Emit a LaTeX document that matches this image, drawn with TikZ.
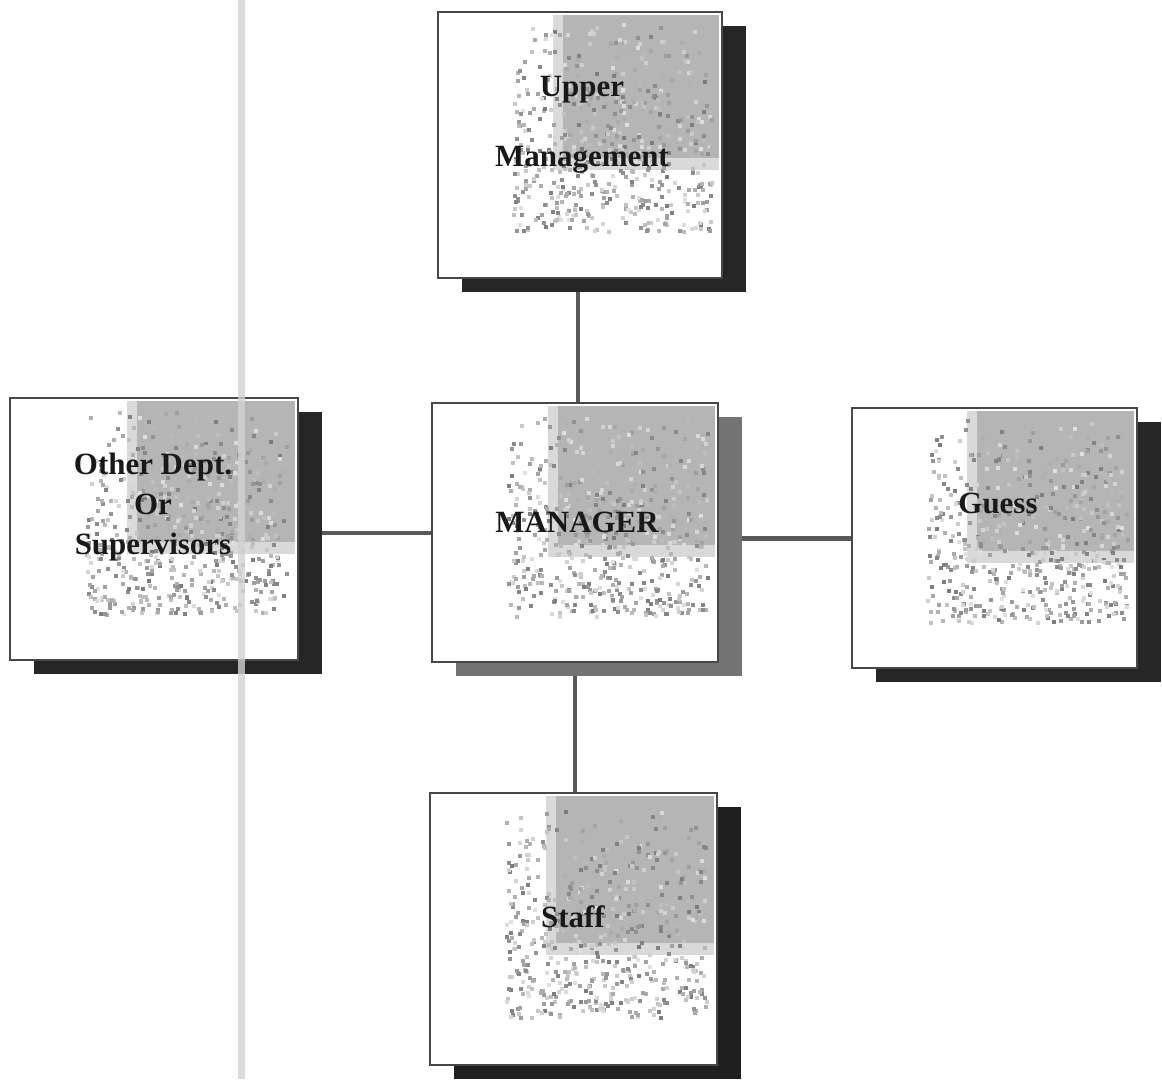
\documentclass[tikz,border=0pt]{standalone}
\usepackage{fontspec}
\setmainfont{Liberation Serif}
\usetikzlibrary{calc}
\pgfdeclarelayer{bg}
\pgfsetlayers{bg,main}
\tikzset{
  boxst/.style={draw=black!72, line width=1.8pt, inner sep=0pt, outer sep=0pt},
  lbl/.style={font=\bfseries\fontsize{22}{28}\selectfont, text=black!90, align=center, inner sep=0pt},
  conn/.style={draw=black!65, line width=3.4pt},
  scanline/.style={fill=gray!35, opacity=0.8}
}
\newcommand\orgbox[7]{%
  % #1 name, #2 x1, #3 y1, #4 x2, #5 y2, #6 shadow colour, #7 seed
  \fill[#6] (#2+24,#3+14) rectangle (#4+24,#5+14);
  \fill[white] (#2,#3) rectangle (#4,#5);
  \pgfmathsetmacro\gxa{#2+0.44*(#4-#2)}
  \pgfmathsetmacro\gyb{#3+0.55*(#5-#3)}
  \fill[gray!30] (\gxa-10,#3+3) rectangle (#4-3,\gyb+12);
  \fill[gray!58] (\gxa,#3+3) rectangle (#4-3,\gyb);
  \pgfmathsetseed{#7}
  \foreach \k in {1,...,520}{%
    \pgfmathsetmacro\px{#2+(0.26+0.70*rnd)*(#4-#2)}
    \pgfmathsetmacro\py{#3+(0.04+0.78*rnd^0.65)*(#5-#3)}
    \pgfmathtruncatemacro\sh{12+40*rnd}
    \fill[black!\sh] (\px,\py) rectangle ++(4,4);
  }
  \pgfmathsetmacro\bw{(#4-#2)*0.025}
  \pgfmathsetmacro\bh{(#5-#3)*0.025}
  \node[boxst, minimum width=\bw cm, minimum height=\bh cm] (#1) at ({(#2+#4)/2},{(#3+#5)/2}) {};
}
\begin{document}
\begin{tikzpicture}[x=0.025cm, y=-0.025cm]
\useasboundingbox (0,0) rectangle (1162,1079);
\begin{pgfonlayer}{bg}
  \fill[white] (0,0) rectangle (1162,1079);
\end{pgfonlayer}

\orgbox{upper}{438}{12}{722}{278}{black!85}{11}
\orgbox{other}{10}{398}{298}{660}{black!85}{23}
\orgbox{mgr}{432}{403}{718}{662}{black!55}{37}
\orgbox{guess}{852}{408}{1137}{668}{black!85}{41}
\orgbox{staff}{430}{793}{717}{1065}{black!88}{53}

\node[lbl, font=\bfseries\fontsize{22}{50}\selectfont] (upper-t) at (582,125) {Upper\\Management};
\node[lbl, font=\bfseries\fontsize{22}{28.5}\selectfont] (other-t) at (153,507) {Other Dept.\\Or\\Supervisors};
\node[lbl] (mgr-t) at (577,522) {MANAGER};
\node[lbl] (guess-t) at (998,503) {Guess};
\node[lbl] (staff-t) at (573,917) {Staff};

\begin{pgfonlayer}{bg}
  \draw[conn] ([xshift=-0.05cm]upper.south) -- ([xshift=-0.05cm]upper.south |- mgr.north);
  \draw[conn] ([yshift=-0.1cm]other.east) -- ([yshift=-0.1cm]other.east -| mgr.west);
  \draw[conn] ([yshift=-0.15cm]mgr.east) -- ([yshift=-0.15cm]mgr.east -| guess.west);
  \draw[conn] (mgr.south) -- (mgr.south |- staff.north);
\end{pgfonlayer}

\fill[scanline] (238,0) rectangle (245,1079);
\end{tikzpicture}
\end{document}
